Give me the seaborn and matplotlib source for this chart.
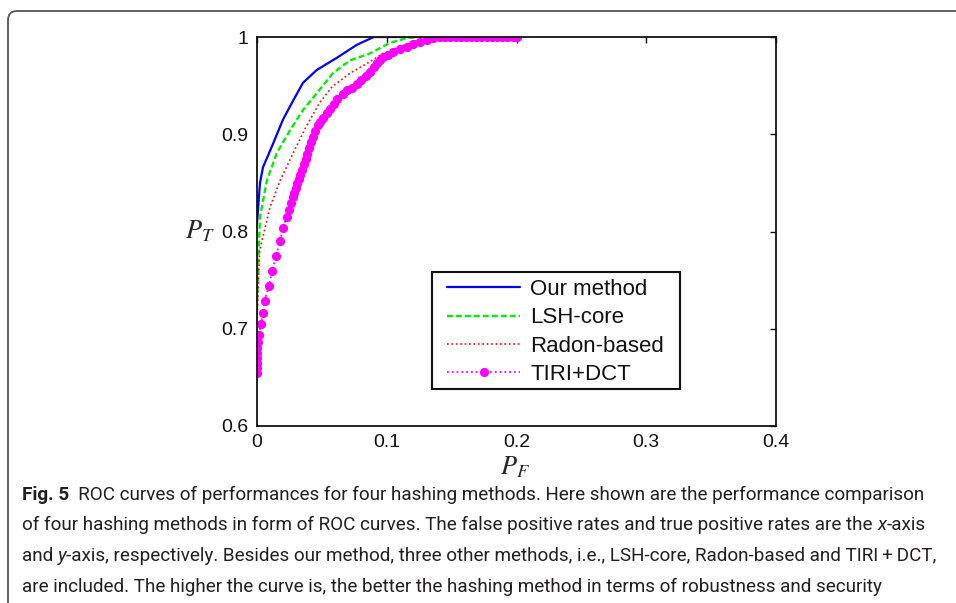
import numpy as np
import pandas as pd
import matplotlib
matplotlib.use("Agg")
import matplotlib.pyplot as plt
import seaborn as sns
from matplotlib.patches import FancyBboxPatch, Rectangle
from matplotlib.transforms import IdentityTransform

# ---------------- data ----------------
blue_x = [0.0, 0.0023, 0.0046, 0.0123, 0.020, 0.028, 0.0355, 0.046, 0.062, 0.077, 0.090, 0.13]
blue_y = [0.808, 0.850, 0.866, 0.890, 0.915, 0.935, 0.953, 0.966, 0.979, 0.992, 1.0, 1.0]

green_x = [0.0, 0.001, 0.0023, 0.0077, 0.0154, 0.0254, 0.0355, 0.046, 0.0586, 0.0717, 0.087, 0.1025, 0.1157, 0.128, 0.15]
green_y = [0.720, 0.770, 0.815, 0.853, 0.881, 0.904, 0.925, 0.942, 0.963, 0.976, 0.983, 0.994, 0.999, 1.0, 1.0]

red_x = [0.0, 0.002, 0.010, 0.018, 0.028, 0.038, 0.048, 0.058, 0.072, 0.085, 0.097, 0.110, 0.124, 0.134, 0.16]
red_y = [0.710, 0.780, 0.825, 0.853, 0.881, 0.908, 0.932, 0.949, 0.963, 0.973, 0.983, 0.990, 0.997, 1.0, 1.0]

mag_x = [0.0, 0.0, 0.0, 0.0, 0.0, 0.0, 0.0008, 0.0015, 0.003, 0.0046, 0.006, 0.009, 0.0116,
         0.0146, 0.0177, 0.020, 0.023, 0.0245, 0.026, 0.0275, 0.0285, 0.030, 0.031, 0.032,
         0.033, 0.0345, 0.036, 0.0375, 0.0385, 0.040, 0.0415, 0.043, 0.045, 0.047, 0.0486,
         0.051, 0.054, 0.056, 0.059, 0.062, 0.066, 0.069, 0.073, 0.077, 0.080, 0.084, 0.087,
         0.090, 0.0925, 0.095, 0.097, 0.101, 0.105, 0.110, 0.1157, 0.120, 0.1257, 0.131,
         0.1357, 0.141, 0.145, 0.149, 0.153, 0.157, 0.161, 0.165, 0.169, 0.173, 0.177, 0.181,
         0.185, 0.189, 0.193, 0.197, 0.200]
mag_y = [0.655, 0.660, 0.665, 0.670, 0.675, 0.680, 0.686, 0.694, 0.705, 0.716, 0.729, 0.744, 0.759,
         0.775, 0.790, 0.804, 0.815, 0.822, 0.829, 0.835, 0.840, 0.845, 0.850, 0.854,
         0.858, 0.863, 0.869, 0.875, 0.880, 0.886, 0.892, 0.897, 0.903, 0.909, 0.913,
         0.917, 0.922, 0.926, 0.931, 0.936, 0.941, 0.945, 0.948, 0.952, 0.956, 0.960, 0.964,
         0.969, 0.973, 0.976, 0.979, 0.982, 0.985, 0.988, 0.990, 0.993, 0.995, 0.997,
         0.999, 1.0, 1.0, 1.0, 1.0, 1.0, 1.0, 1.0, 1.0, 1.0, 1.0, 1.0,
         1.0, 1.0, 1.0, 1.0, 1.0]

series_names = ["Our method", "LSH-core", "Radon-based", "TIRI+DCT"]
x_ticks = [0, 0.1, 0.2, 0.3, 0.4]
x_tick_labels = ["0", "0.1", "0.2", "0.3", "0.4"]
y_ticks = [0.6, 0.7, 0.8, 0.9, 1.0]
y_tick_labels = ["0.6", "0.7", "0.8", "0.9", "1"]

caption_lines = [
    [("Fig. 5", "bold", "normal"),
     ("  ROC curves of performances for four hashing methods. Here shown are the performance comparison", "normal", "normal")],
    [("of four hashing methods in form of ROC curves. The false positive rates and true positive rates are the ", "normal", "normal"),
     ("x", "normal", "italic"), ("-axis", "normal", "normal")],
    [("and ", "normal", "normal"), ("y", "normal", "italic"),
     ("-axis, respectively. Besides our method, three other methods, i.e., LSH-core, Radon-based and TIRI\u2009+\u2009DCT,", "normal", "normal")],
    [("are included. The higher the curve is, the better the hashing method in terms of robustness and security", "normal", "normal")],
]

# ---------------- figure ----------------
sns.set_style("white")
plt.rcParams["font.family"] = ["Liberation Sans", "DejaVu Sans"]
plt.rcParams["mathtext.fontset"] = "stix"

W, H = 956, 603
fig = plt.figure(figsize=(W / 100, H / 100), dpi=100)
fig.patch.set_facecolor("white")

L, R, T, B = 257, 776, 37, 426
ax = fig.add_axes([L / W, 1 - B / H, (R - L) / W, (B - T) / H])

styles = [
    dict(color="#0000ff", linestyle="-", linewidth=1.6),
    dict(color="#00ee00", linestyle="--", linewidth=1.7, dashes=(2.5, 1.3)),
    dict(color="#ff0000", linestyle=":", linewidth=1.2),
    dict(color="#ff00ff", linestyle=":", linewidth=1.3, marker="o", markersize=5.8,
         markeredgecolor="#ff00ff", markerfacecolor="#ff00ff"),
]
data = [(blue_x, blue_y), (green_x, green_y), (red_x, red_y), (mag_x, mag_y)]
for (xs, ys), name, st in zip(data, series_names, styles):
    df = pd.DataFrame({"PF": xs, "PT": ys})
    st = dict(st)
    dashes = st.pop("dashes", None)
    sns.lineplot(data=df, x="PF", y="PT", ax=ax, sort=False, estimator=None,
                 label=name, **st)
    if dashes is not None:
        ax.lines[-1].set_dashes(dashes)

ax.set_xlim(0, 0.4)
ax.set_ylim(0.6, 1.0)
ax.set_xticks(x_ticks)
ax.set_xticklabels(x_tick_labels)
ax.set_yticks(y_ticks)
ax.set_yticklabels(y_tick_labels)
ax.tick_params(direction="in", length=4, width=1, top=True, right=True,
               labelsize=14, colors="#111111", pad=6)
for s in ax.spines.values():
    s.set_visible(True)
    s.set_color("#111111")
    s.set_linewidth(1.3)

ax.set_xlabel(r"$P_F$", fontsize=19, va="center")
ax.set_ylabel(r"$P_T$", fontsize=19, rotation=0, va="center", ha="center")
ax.xaxis.set_label_coords(0.497, -0.105)
ax.yaxis.set_label_coords(-0.110, 0.501)

leg = ax.legend(loc="upper left", bbox_to_anchor=((447 - L) / (R - L), (B - 279) / (B - T)),
                frameon=False, fontsize=16, handlelength=3.3, handletextpad=0.45,
                labelspacing=0.33, borderpad=0, borderaxespad=0, numpoints=1)
for t in leg.get_texts():
    t.set_color("#111111")
ax.add_patch(Rectangle(((432 - L) / (R - L), (B - 389) / (B - T)), 248 / (R - L), 117 / (B - T),
                       transform=ax.transAxes, fill=False, ec="#111111", lw=1.5, zorder=5))

# outer rounded frame
fig.patches.append(FancyBboxPatch((8, -20), 980, 592 + 20,
                                  boxstyle="round,pad=0,rounding_size=9",
                                  transform=IdentityTransform(), fill=False,
                                  ec="#555555", lw=1.3))

# caption
cap_family = ["Roboto", "DejaVu Sans"]
renderer = fig.canvas.get_renderer()


def seg_width(txt, size, weight, style):
    t1 = fig.text(0, 0, txt + "|", fontsize=size, fontweight=weight, fontstyle=style, family=cap_family)
    t2 = fig.text(0, 0, "|", fontsize=size, fontweight=weight, fontstyle=style, family=cap_family)
    w = t1.get_window_extent(renderer).width - t2.get_window_extent(renderer).width
    t1.remove()
    t2.remove()
    return w


size0 = 13.0
widths = [sum(seg_width(s, size0, wt, st) for s, wt, st in line) for line in caption_lines]
cap_size = size0 * (940 - 22) / max(widths)

baselines = [500, 530.5, 561, 591.5]
for line, by in zip(caption_lines, baselines):
    x = 22
    for s, wt, st in line:
        fig.text(x / W, 1 - by / H, s, fontsize=cap_size, fontweight=wt, fontstyle=st,
                 family=cap_family, va="baseline", ha="left", color="#231f20")
        x += seg_width(s, cap_size, wt, st)

fig.savefig("out.png", dpi=100, facecolor="white")
